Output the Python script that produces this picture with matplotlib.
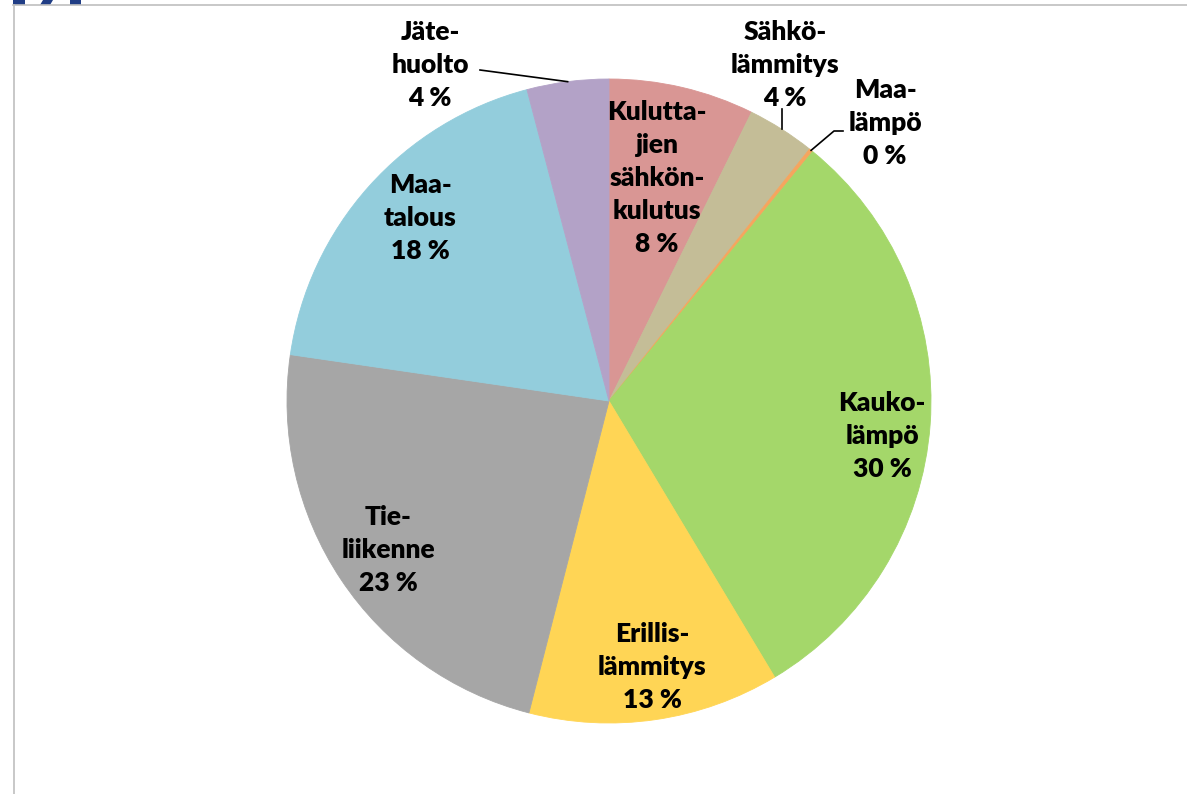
import numpy as np
import matplotlib.pyplot as plt
from matplotlib.patches import Polygon
from matplotlib.lines import Line2D

# shares of emissions, percent (clockwise from top)
labels = ['Kulutta-\njien\nsähkön-\nkulutus', 'Sähkö-\nlämmitys', 'Maa-\nlämpö',
          'Kauko-\nlämpö', 'Erillis-\nlämmitys', 'Tie-\nliikenne', 'Maa-\ntalous',
          'Jäte-\nhuolto']
values = [7.3, 3.4, 0.2, 30.5, 12.6, 23.3, 18.6, 4.1]
shown = ['8 %', '4 %', '0 %', '30 %', '13 %', '23 %', '18 %', '4 %']
colors = ['#D99694', '#C4BD97', '#F6A55E', '#A4D76A', '#FFD555', '#A6A6A6',
          '#93CDDC', '#B3A2C7']

plt.rcParams['font.family'] = ['Lato', 'DejaVu Sans']

W, H = 1187, 794
cx, cy, R = 609, 401, 322
fig = plt.figure(figsize=(W / 100, H / 100), dpi=100)
ax = fig.add_axes([0, 0, 1, 1])

wedges, _ = ax.pie(values, colors=colors, startangle=90, counterclock=False,
                   radius=1, wedgeprops=dict(edgecolor='none', linewidth=0))
for w, c in zip(wedges, colors):
    w.set_edgecolor(c)
    w.set_linewidth(0.6)

ax.set_xlim(-cx / R, (W - cx) / R)
ax.set_ylim(-(H - cy) / R, cy / R)
ax.set_aspect('equal')
ax.axis('off')


def px(x, y):
    return (x - cx) / R, (cy - y) / R


def edge(i):
    w = wedges[i]
    mid = np.deg2rad((w.theta1 + w.theta2) / 2)
    return np.cos(mid), np.sin(mid)


font = dict(fontsize=19, fontweight='heavy', color='#000000', ha='center',
            va='center', multialignment='center', linespacing=1.45)

# label block centres, in pixels of the original picture
label_pos = [(657, 178), (785, 65), (885, 123), (882, 436),
             (652, 667), (388, 550), (420, 218), (430, 65)]
for lab, pct, (x, y) in zip(labels, shown, label_pos):
    ax.text(*px(x, y), lab + '\n' + pct, **font)

# leader lines for the small slices
ex, ey = edge(1)
ax.add_line(Line2D([ex, ex], [ey, px(0, 109)[1]], color='black', lw=1.2))

ex, ey = edge(2)
ax.add_line(Line2D([ex, px(834, 0)[0], px(843, 0)[0]],
                   [ey, px(0, 131)[1], px(0, 131)[1]], color='black', lw=1.2))

ex, ey = edge(7)
ax.add_line(Line2D([px(480, 0)[0], ex], [px(0, 70)[1], ey], color='black', lw=1.2))

# frame and cut-off logo at the top
fig.add_artist(Line2D([13 / W, 1], [1 - 5 / H, 1 - 5 / H], color='#BFBFBF', lw=1.2))
fig.add_artist(Line2D([13.5 / W, 13.5 / W], [0, 1 - 5 / H], color='#BFBFBF', lw=1.2))
blue = '#203D85'
for xs in ([13, 25, 25, 13], [43, 53, 50, 40], [70, 81, 81, 70]):
    pts = [(x / W, 1 - y / H) for x, y in zip(xs, [0, 0, 5, 5])]
    fig.add_artist(Polygon(pts, closed=True, color=blue, lw=0))

fig.savefig('out.png', dpi=100)
